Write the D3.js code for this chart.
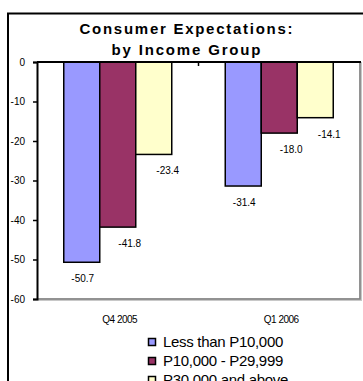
<!DOCTYPE html>
<html><head><meta charset="utf-8">
<script src="https://cdn.jsdelivr.net/npm/d3@7"></script>
<style>
html,body{margin:0;padding:0;background:#fff;overflow:hidden}
svg{display:block;font-family:Arial,"Liberation Sans",sans-serif}
</style></head>
<body><svg id="c" width="363" height="381"></svg>
<script>
const categories = ["Q4 2005", "Q1 2006"];
const seriesNames = ["Less than P10,000", "P10,000 - P29,999", "P30,000 and above"];
const lessThan10k = [-50.7, -31.4];
const from10kTo30k = [-41.8, -18.0];
const above30k = [-23.4, -14.1];
const yTicks = [0, -10, -20, -30, -40, -50, -60];
const titleLines = ["Consumer Expectations:", "by Income Group"];

const seriesValues = [lessThan10k, from10kTo30k, above30k];
const colors = ["#9999FF", "#993366", "#FFFFCC"];
const labelDx = [1, 12, 14];

const svg = d3.select("#c");
const L = 37, R = 360, T = 62, B = 299;

// outer frame
svg.append("rect").attr("x", 8).attr("y", 13.5).attr("width", 400).attr("height", 420)
  .attr("fill", "#fff").attr("stroke", "#000").attr("stroke-width", 2);

// title
titleLines.forEach((t, i) => {
  svg.append("text").attr("x", 186).attr("y", i === 0 ? 34 : 55)
    .attr("text-anchor", "middle").attr("font-size", 15).attr("font-weight", "bold")
    .attr("textLength", i === 0 ? 213 : 149).attr("lengthAdjust", "spacing")
    .attr("fill", "#000").text(t);
});

const y = d3.scaleLinear().domain([-60, 0]).range([B, T]);
const x0 = d3.scaleBand().domain(categories).range([L, R]);
const groupW = 108;
const x1 = d3.scaleBand().domain(d3.range(seriesNames.length)).range([0, groupW]);

// plot area gray border (right & bottom)
svg.append("path").attr("d", `M${L},${B + 0.5}H${R + 0.5}V${T}`)
  .attr("fill", "none").attr("stroke", "#c8c8c8").attr("stroke-width", 3);
svg.append("path").attr("d", `M${L},${B}H${R}V${T}`)
  .attr("fill", "none").attr("stroke", "#808080").attr("stroke-width", 1.5);

// bars
const bars = [];
categories.forEach((c, ci) => {
  seriesValues.forEach((vals, si) => bars.push({c, si, v: vals[ci]}));
});
const off = (x0.bandwidth() - groupW) / 2;
svg.append("g").selectAll("rect").data(bars).join("rect")
  .attr("x", d => x0(d.c) + off + x1(d.si))
  .attr("y", y(0))
  .attr("width", x1.bandwidth())
  .attr("height", d => y(d.v) - y(0))
  .attr("fill", d => colors[d.si])
  .attr("stroke", "#000").attr("stroke-width", 1.5);

svg.append("g").selectAll("text").data(bars).join("text")
  .attr("x", d => x0(d.c) + off + x1(d.si) + x1.bandwidth() / 2 + labelDx[d.si])
  .attr("y", d => y(d.v) + 20)
  .attr("text-anchor", "middle").attr("font-size", 10).attr("fill", "#000")
  .text(d => d.v.toFixed(1));

// y axis
const yAxis = d3.axisLeft(y).tickValues(yTicks).tickSize(4).tickPadding(8).tickFormat(d => String(d));
const gy = svg.append("g").attr("transform", `translate(${L},0)`).call(yAxis);
gy.select(".domain").attr("stroke", "#000").attr("stroke-width", 2);
gy.selectAll(".tick line").attr("stroke", "#000").attr("stroke-width", 1.5);
gy.selectAll("text").attr("font-size", 10).attr("font-family", "Arial, Liberation Sans, sans-serif").attr("fill", "#000");

// zero axis line at top with category separator ticks
svg.append("line").attr("x1", L).attr("x2", R + 1).attr("y1", y(0)).attr("y2", y(0))
  .attr("stroke", "#000").attr("stroke-width", 2);
categories.slice(1).forEach(c => {
  svg.append("line").attr("x1", x0(c)).attr("x2", x0(c)).attr("y1", y(0)).attr("y2", y(0) + 4)
    .attr("stroke", "#000").attr("stroke-width", 1.5);
});

// category labels
svg.append("g").selectAll("text").data(categories).join("text")
  .attr("x", d => x0(d) + x0.bandwidth() / 2 + 2)
  .attr("y", 323).attr("text-anchor", "middle").attr("font-size", 10)
  .attr("letter-spacing", -0.5).attr("fill", "#000").text(d => d);

// legend
const lg = svg.append("g");
seriesNames.forEach((n, i) => {
  const cy = 342 + i * 19;
  lg.append("rect").attr("x", 148.5).attr("y", cy - 3.5).attr("width", 7).attr("height", 7)
    .attr("fill", colors[i]).attr("stroke", "#000").attr("stroke-width", 1.5);
  lg.append("text").attr("x", 163).attr("y", cy + 5).attr("font-size", 15)
    .attr("letter-spacing", -0.3).attr("fill", "#000").text(n);
});
</script></body></html>
